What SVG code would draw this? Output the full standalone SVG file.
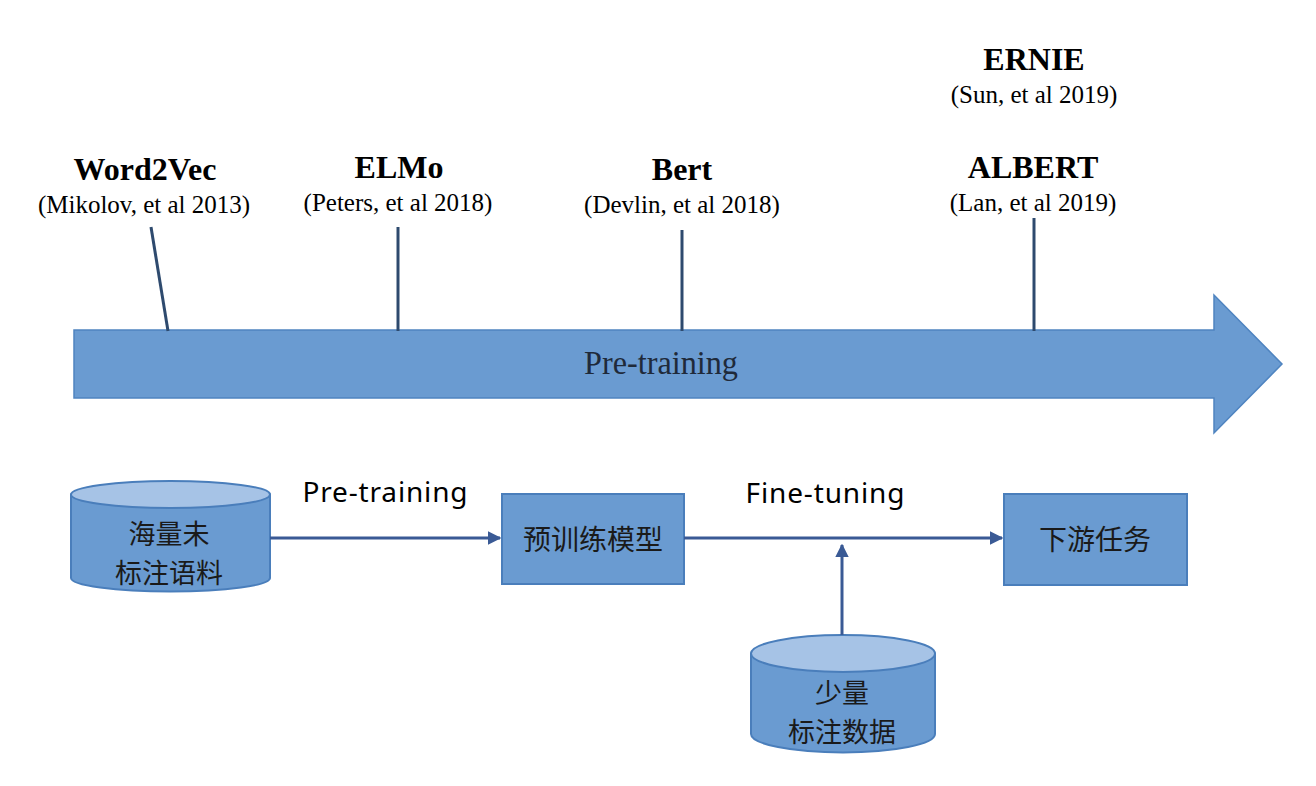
<svg xmlns="http://www.w3.org/2000/svg" width="1316" height="786" viewBox="0 0 1316 786">
<style>
.title{font-family:"Liberation Serif","Times New Roman",serif;font-weight:bold;font-size:32px;fill:#000;text-anchor:middle}
.cite{font-family:"Liberation Serif","Times New Roman",serif;font-size:25px;fill:#000;text-anchor:middle}
.tick{stroke:#2E4A6E;stroke-width:3;fill:none}
.cn{font-family:"Noto Sans CJK SC","Noto Sans",sans-serif;font-size:28px;fill:#1a1a1a;text-anchor:middle}
.cn2{font-family:"Noto Sans CJK SC","Noto Sans",sans-serif;font-size:27px;fill:#1a1a1a;text-anchor:middle}
.lbl{font-family:"Noto Sans","Liberation Sans",sans-serif;font-size:28px;fill:#000;text-anchor:middle}
.box{fill:#6A9BD1;stroke:#4A7EBB;stroke-width:2}
.cylside{fill:#6A9BD1;stroke:#4A7EBB;stroke-width:2}
.cyltop{fill:#A6C3E6;stroke:#4A7EBB;stroke-width:2}
.conn{stroke:#3A5A95;stroke-width:3;fill:none}
</style>
<defs>
<marker id="ah" viewBox="0 0 10 10" refX="9" refY="5" markerWidth="4.5" markerHeight="4.5" orient="auto" markerUnits="strokeWidth">
<path d="M0,0 L10,5 L0,10 Z" fill="#3A5A95"/>
</marker>
</defs>
<rect width="1316" height="786" fill="#fff"/>

<g id="timeline">
<path d="M74,330 L1214,330 L1214,295 L1282,364 L1214,433 L1214,398 L74,398 Z" fill="#6A9BD1" stroke="#4F84C0" stroke-width="1.5"/>
<text x="661" y="374" font-family="Liberation Serif,Times New Roman,serif" font-size="33" fill="#1F2A3A" text-anchor="middle" textLength="154" lengthAdjust="spacingAndGlyphs">Pre-training</text>
</g>

<g id="ticks">
<line class="tick" x1="151" y1="227" x2="168" y2="331"/>
<line class="tick" x1="398" y1="227" x2="398" y2="331"/>
<line class="tick" x1="682" y1="230" x2="682" y2="331"/>
<line class="tick" x1="1034" y1="218" x2="1034" y2="331"/>
</g>

<g id="word2vec">
<text class="title" x="145" y="180">Word2Vec</text>
<text class="cite" x="144" y="213">(Mikolov, et al 2013)</text>
</g>
<g id="elmo">
<text class="title" x="399" y="178">ELMo</text>
<text class="cite" x="398" y="211">(Peters, et al 2018)</text>
</g>
<g id="bert">
<text class="title" x="682" y="180">Bert</text>
<text class="cite" x="682" y="213">(Devlin, et al 2018)</text>
</g>
<g id="ernie">
<text class="title" x="1034" y="70">ERNIE</text>
<text class="cite" x="1034" y="103">(Sun, et al 2019)</text>
</g>
<g id="albert">
<text class="title" x="1033" y="178">ALBERT</text>
<text class="cite" x="1033" y="211">(Lan, et al 2019)</text>
</g>

<g id="corpus">
<path class="cylside" d="M71,494.5 L71,578 A99.5,13.5 0 0 0 270,578 L270,494.5 Z"/>
<ellipse class="cyltop" cx="170.5" cy="494.5" rx="99.5" ry="13.5"/>
<text class="cn2" x="169" y="544">海量未</text>
<text class="cn2" x="169" y="583">标注语料</text>
</g>

<g id="pretrained">
<rect class="box" x="502" y="494" width="182" height="90"/>
<text class="cn" x="593" y="550">预训练模型</text>
</g>

<g id="downstream">
<rect class="box" x="1004" y="494" width="183" height="91"/>
<text class="cn" x="1095" y="550">下游任务</text>
</g>

<g id="labeled">
<path class="cylside" d="M751,653.5 L751,734 A92,18.5 0 0 0 935,734 L935,653.5 Z"/>
<ellipse class="cyltop" cx="843" cy="653.5" rx="92" ry="18.5"/>
<text class="cn2" x="842" y="703">少量</text>
<text class="cn2" x="842" y="742">标注数据</text>
</g>

<g id="connectors">
<line class="conn" x1="270" y1="538" x2="500" y2="538" marker-end="url(#ah)"/>
<line class="conn" x1="684" y1="538" x2="1002" y2="538" marker-end="url(#ah)"/>
<line class="conn" x1="842" y1="635" x2="842" y2="545" marker-end="url(#ah)"/>
<text class="lbl" x="385" y="502" textLength="165" lengthAdjust="spacing">Pre-training</text>
<text class="lbl" x="825" y="503" textLength="159" lengthAdjust="spacing">Fine-tuning</text>
</g>
</svg>
